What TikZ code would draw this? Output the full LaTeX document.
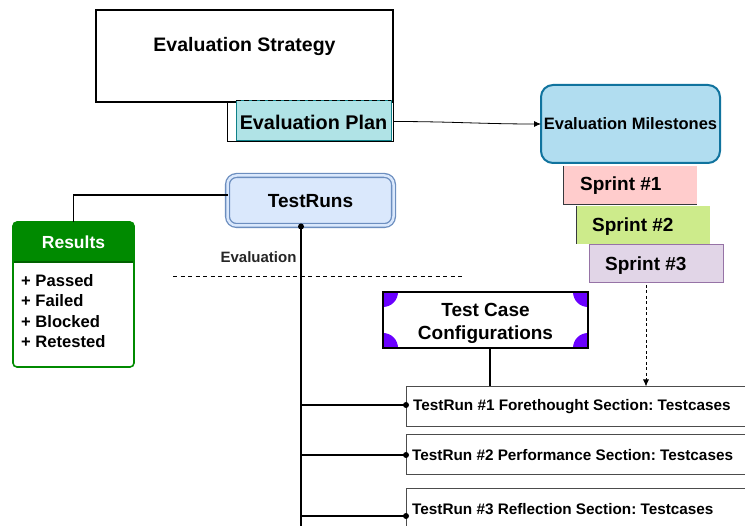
\documentclass[tikz,border=0pt]{standalone}
\usepackage{fontspec}
\setmainfont{Liberation Sans}
\usetikzlibrary{arrows.meta,calc}
\definecolor{planfill}{HTML}{B0E3E6}
\definecolor{planline}{HTML}{0E8088}
\definecolor{milefill}{HTML}{B1DDF0}
\definecolor{mileline}{HTML}{10739E}
\definecolor{sprintA}{HTML}{FFCCCC}
\definecolor{sprintB}{HTML}{CDEB8B}
\definecolor{sprintC}{HTML}{E1D5E7}
\definecolor{sprintCline}{HTML}{9673A6}
\definecolor{runfill}{HTML}{DAE8FC}
\definecolor{runline}{HTML}{6C8EBF}
\definecolor{resgreen}{HTML}{008A00}
\definecolor{cornerpurple}{HTML}{6A00FF}
\definecolor{edgegray}{HTML}{36393D}
\frenchspacing
\tikzset{
  plainbox/.style={rectangle, inner sep=0pt, outer sep=0pt},
  big/.style={font=\fontsize{19}{23}\selectfont\bfseries},
  mid/.style={font=\fontsize{16.5}{20}\selectfont\bfseries},
  small/.style={font=\fontsize{15.3}{18}\selectfont\bfseries},
  sprintbox/.style={plainbox, minimum width=134, minimum height=38},
  runbox/.style={plainbox, draw=black!70, line width=1, minimum width=344, minimum height=40},
  wire/.style={line width=1.7, black},
  dotend/.style={circle, fill=black, inner sep=0pt, minimum size=6},
}
\begin{document}
\begin{tikzpicture}[x=1pt, y=-1pt]
\useasboundingbox (0,0) rectangle (745,526);
\fill[white] (0,0) rectangle (745,526);

% strategy and plan
\node (strat) [plainbox, draw=black, line width=2, minimum width=297, minimum height=92] at (244.5,56) {};
\node (stratlbl) [font=\fontsize{19.5}{23}\selectfont\bfseries] at (244.5,47) {Evaluation Strategy};
\node (planout) [plainbox, draw=black, fill=white, line width=0.8, minimum width=166, minimum height=39] at (310,121.5) {};
\node (plan) [plainbox, draw=planline, fill=planfill, line width=1, minimum width=155, minimum height=39.5] at (313.5,120.3) {};
\draw[black, line width=1.8, dash pattern=on 5pt off 3pt] (plan.north west) -- (plan.north east);
\node (planlbl) [font=\fontsize{19.8}{23}\selectfont\bfseries] at (313.5,122) {Evaluation Plan};

% milestones and sprints
\node (miles) [plainbox, draw=mileline, fill=milefill, line width=2, rounded corners=12, minimum width=179, minimum height=78] at (630.5,124) {};
\node (mileslbl) [mid] at (miles.center) {Evaluation Milestones};
\draw[line width=0.8, -{Latex[length=7pt,width=6pt]}] (planout.east) to[out=0, in=180] (miles.west);

\node (sp1) [sprintbox, fill=sprintA] at (630,185) {};
\draw[edgegray, line width=0.8] (sp1.north west) -- (sp1.south west) -- (sp1.south east);
\node (sp1lbl) [big, anchor=west, inner sep=0pt] at (580,186) {Sprint \#1};
\node (sp2) [sprintbox, fill=sprintB] at (643,225.5) {};
\draw[edgegray, line width=0.8] (sp2.north west) -- (sp2.south west);
\node (sp2lbl) [big, anchor=west, inner sep=0pt] at (592,226.5) {Sprint \#2};
\node (sp3) [sprintbox, fill=sprintC, draw=sprintCline, line width=1] at (656,264) {};
\node (sp3lbl) [big, anchor=west, inner sep=0pt] at (605,266) {Sprint \#3};

% test runs and results
\node (truns) [plainbox, draw=runline, double=runfill, double distance=2.5, line width=1.3, fill=runfill, rounded corners=9, minimum width=166, minimum height=50] at (310.5,200.5) {};
\node (trunslbl) [big] at (310.5,201) {TestRuns};

\node (res) [plainbox, minimum width=121, minimum height=145] at (73.5,294.5) {};
\fill[resgreen] (res.west |- 0,262) [rounded corners=4] -- (res.north west) -- (res.north east) [sharp corners] -- (res.east |- 0,262) -- cycle;
\draw[resgreen!70!black, line width=1.5] (res.west |- 0,262) -- (res.east |- 0,262);
\draw[resgreen, line width=1.6, rounded corners=4] (res.north west) rectangle (res.south east);
\node (reshead) [font=\fontsize{17.5}{20}\selectfont\bfseries, text=white] at (73.5,242) {Results};
\node (reslist) [font=\fontsize{16.6}{20.5}\selectfont\bfseries, anchor=north west, align=left, inner sep=0pt] at (21,274) {+ Passed\\+ Failed\\+ Blocked\\+ Retested};

\coordinate (trleft) at ($(truns.west)+(0,-5.5)$);
\draw[wire] (trleft) -| (res.north);

% evaluation divider
\node (evallbl) [font=\fontsize{15}{18}\selectfont\bfseries, text=black!85] at (258.5,257) {Evaluation};
\coordinate (dashA) at (173,276);
\coordinate (dashB) at (462,276);
\draw[black, line width=0.9, dash pattern=on 4pt off 3.5pt] (dashA) -- (dashB);

% trunk from the test runs
\coordinate (trunktop) at ($(truns.south)+(-9.5,1)$);
\coordinate (trunkend) at (301,540);
\draw[wire] (trunktop) -- (trunkend);
\node (trunkdot) [dotend] at (trunktop) {};

% test case configurations
\node (tcc) [plainbox, minimum width=205, minimum height=56] at (485.5,320) {};
\begin{scope}
  \clip (tcc.north west) rectangle (tcc.south east);
  \fill[cornerpurple] (tcc.north west) circle (15);
  \fill[cornerpurple] (tcc.north east) circle (15);
  \fill[cornerpurple] (tcc.south west) circle (15);
  \fill[cornerpurple] (tcc.south east) circle (15);
\end{scope}
\draw[black, line width=1.2] (tcc.north west) rectangle (tcc.south east);
\node (tcclbl) [align=center, font=\fontsize{19}{23}\selectfont\bfseries] at (485.5,323) {Test Case\\Configurations};

% test run sections
\node (tr1) [runbox] at (578,406.5) {};
\node (tr1lbl) [small, anchor=west, inner sep=0pt] at (413,406.5) {TestRun \#1 Forethought Section: Testcases};
\node (tr2) [runbox] at (578,455) {};
\node (tr2lbl) [small, anchor=west, inner sep=0pt] at (412,455) {TestRun \#2 Performance Section: Testcases};
\node (tr3) [runbox] at (578,509) {};
\node (tr3lbl) [small, anchor=west, inner sep=0pt] at (412,509) {TestRun \#3 Reflection Section: Testcases};

% connectors into the sections
\coordinate (tccout) at ($(tcc.south)+(4.5,0)$);
\draw[wire] (tccout) -- (tccout |- tr1.north);
\coordinate (sprintout) at ($(sp3.south)+(-10,2)$);
\draw[black, line width=0.9, dash pattern=on 3pt off 2.5pt, -{Latex[length=7pt,width=6pt]}] (sprintout) -- (sprintout |- tr1.north);

\coordinate (tr1in) at ($(tr1.west)+(0,-1.5)$);
\draw[wire] (tr1in -| trunktop) -- (tr1in);
\node (d1) [dotend] at (tr1in) {};
\draw[wire] (tr2.west -| trunktop) -- (tr2.west);
\node (d2) [dotend] at (tr2.west) {};
\coordinate (tr3in) at ($(tr3.west)+(0,7)$);
\draw[wire] (tr3in -| trunktop) -- (tr3in);
\node (d3) [dotend] at (tr3in) {};
\end{tikzpicture}
\end{document}
